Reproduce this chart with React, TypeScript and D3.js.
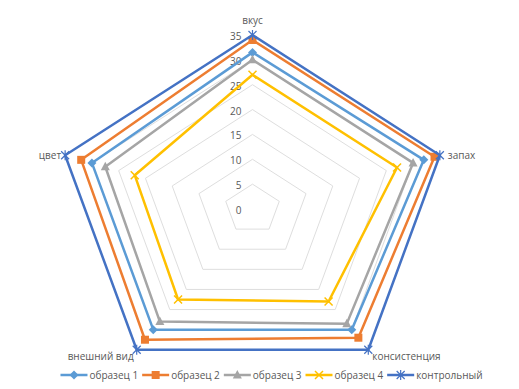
import * as d3 from "d3";
import { useEffect, useRef } from "react";

const categories = ["вкус", "запах", "консистенция", "внешний вид", "цвет"];
const seriesNames = ["образец 1", "образец 2", "образец 3", "образец 4", "контрольный"];
const sample1 = [31.5, 32, 30, 30, 30];
const sample2 = [34, 34, 32, 32.5, 32];
const sample3 = [30, 30, 28.5, 28, 27.5];
const sample4 = [27, 27, 23, 22.5, 22];
const control = [35, 35, 35, 35, 35];
const tickValues = [0, 5, 10, 15, 20, 25, 30, 35];

const W = 519;
const H = 389;

function App() {
  const ref = useRef<SVGSVGElement>(null);

  useEffect(() => {
    const svg = d3.select(ref.current);
    svg.selectAll("*").remove();

    const cx = 252.5;
    const cy = 209;
    const rx = 197; // image is squashed vertically
    const ry = 174;
    const r = d3.scaleLinear().domain([0, 35]).range([0, 1]);
    const angle = d3.scaleLinear().domain([0, categories.length]).range([0, 2 * Math.PI]);

    const pt = (v: number, i: number): [number, number] => [
      cx + rx * r(v) * Math.sin(angle(i)),
      cy - ry * r(v) * Math.cos(angle(i)),
    ];

    const line = d3.line<[number, number]>().curve(d3.curveLinearClosed);

    // grid rings
    svg.append("g")
      .selectAll("path")
      .data(tickValues.filter((t) => t > 0))
      .enter()
      .append("path")
      .attr("d", (t) => line(categories.map((_, i) => pt(t, i))))
      .attr("fill", "none")
      .attr("stroke", "#dedede")
      .attr("stroke-width", 1);

    // tick labels
    svg.append("g")
      .selectAll("text")
      .data(tickValues)
      .enter()
      .append("text")
      .attr("x", cx - 11)
      .attr("y", (t) => cy - ry * r(t) + 5)
      .attr("text-anchor", "end")
      .attr("font-family", "Open Sans, sans-serif")
      .attr("font-size", 10)
      .attr("fill", "#595959")
      .text((t) => t);

    // category labels
    const catPos = [
      { dx: 0, dy: -11, anchor: "middle" },
      { dx: 8, dy: 4, anchor: "start" },
      { dx: 4, dy: 10, anchor: "start" },
      { dx: -3, dy: 10, anchor: "end" },
      { dx: -4, dy: 4, anchor: "end" },
    ];
    svg.append("g")
      .selectAll("text")
      .data(categories)
      .enter()
      .append("text")
      .attr("x", (_, i) => pt(35, i)[0] + catPos[i].dx)
      .attr("y", (_, i) => pt(35, i)[1] + catPos[i].dy)
      .attr("text-anchor", (_, i) => catPos[i].anchor)
      .attr("font-family", "Open Sans, sans-serif")
      .attr("font-size", 10)
      .attr("fill", "#595959")
      .text((d) => d);

    const series = [
      { name: seriesNames[0], values: sample1, color: "#5b9bd5", marker: "diamond" },
      { name: seriesNames[1], values: sample2, color: "#ed7d31", marker: "square" },
      { name: seriesNames[2], values: sample3, color: "#a5a5a5", marker: "triangle" },
      { name: seriesNames[3], values: sample4, color: "#ffc000", marker: "x" },
      { name: seriesNames[4], values: control, color: "#4472c4", marker: "star" },
    ];

    const drawMarker = (g: any, type: string, x: number, y: number, color: string) => {
      if (type === "diamond") {
        g.append("path").attr("d", `M${x},${y - 4.5}L${x + 4.5},${y}L${x},${y + 4.5}L${x - 4.5},${y}Z`).attr("fill", color);
      } else if (type === "square") {
        g.append("rect").attr("x", x - 4).attr("y", y - 4).attr("width", 8).attr("height", 8).attr("fill", color);
      } else if (type === "triangle") {
        g.append("path").attr("d", `M${x},${y - 5}L${x + 4.5},${y + 3.5}L${x - 4.5},${y + 3.5}Z`).attr("fill", color);
      } else if (type === "x") {
        g.append("path").attr("d", `M${x - 4},${y - 4}L${x + 4},${y + 4}M${x - 4},${y + 4}L${x + 4},${y - 4}`)
          .attr("stroke", color).attr("stroke-width", 1.5);
      } else {
        g.append("path").attr("d", `M${x - 4},${y - 4}L${x + 4},${y + 4}M${x - 4},${y + 4}L${x + 4},${y - 4}M${x},${y - 5}L${x},${y + 5}`)
          .attr("stroke", color).attr("stroke-width", 1.2);
      }
    };

    series.forEach((s) => {
      const g = svg.append("g");
      const pts = s.values.map((v, i) => pt(v, i));
      g.append("path")
        .attr("d", line(pts))
        .attr("fill", "none")
        .attr("stroke", s.color)
        .attr("stroke-width", 2.5)
        .attr("stroke-linejoin", "round");
      pts.forEach(([x, y]) => drawMarker(g, s.marker, x, y, s.color));
    });

    // legend
    const legend = svg.append("g");
    const ly = 375;
    const items = legend.selectAll("g").data(series).enter().append("g");
    items.append("text")
      .attr("x", 29)
      .attr("y", ly + 3.5)
      .attr("font-family", "Open Sans, sans-serif")
      .attr("font-size", 10)
      .attr("fill", "#595959")
      .text((d) => d.name);
    const widths: number[] = [];
    items.each(function () {
      const t = d3.select(this).select("text").node() as SVGTextElement;
      widths.push(29 + t.getComputedTextLength() + 4);
    });
    const total = d3.sum(widths) - 4;
    let x0 = 271.5 - total / 2;
    items.each(function (d, i) {
      const g = d3.select(this);
      g.attr("transform", `translate(${x0},0)`);
      g.append("line")
        .attr("x1", 0).attr("x2", 27).attr("y1", ly).attr("y2", ly)
        .attr("stroke", d.color).attr("stroke-width", 2.5);
      drawMarker(g, d.marker, 13.5, ly, d.color);
      x0 += widths[i];
    });
  }, []);

  return (
    <svg
      ref={ref}
      width={W}
      height={H}
      style={{ position: "absolute", left: 0, top: 0, background: "#fff" }}
    />
  );
}

export default App;
